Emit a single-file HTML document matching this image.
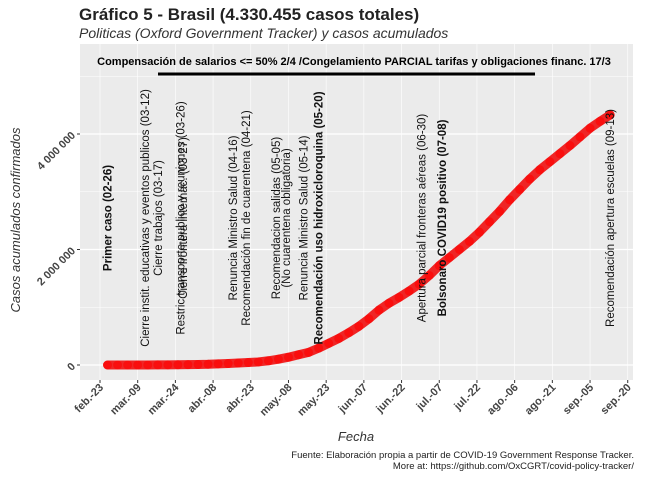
<!DOCTYPE html>
<html><head><meta charset="utf-8"><style>
body{margin:0;background:#fff;font-family:"Liberation Sans",sans-serif}
svg text{font-family:"Liberation Sans",sans-serif}
</style></head><body>
<svg id="c" width="650" height="476" xmlns="http://www.w3.org/2000/svg">
<text x="79" y="20" font-size="17" font-weight="bold" fill="#222">Gráfico 5 - Brasil (4.330.455 casos totales)</text>
<text x="79" y="38" font-size="14" font-style="italic" fill="#333">Politicas (Oxford Government Tracker) y casos acumulados</text>
<rect x="80" y="44" width="553" height="336" fill="#ebebeb"/>
<g id="grid"></g>
<g id="marks"></g>
<g id="ann"></g>
<text x="354" y="65" font-size="11" font-weight="bold" text-anchor="middle" fill="#000">Compensación de salarios &lt;= 50% 2/4 /Congelamiento PARCIAL tarifas y obligaciones financ. 17/3</text>
<line x1="158" y1="74" x2="535" y2="74" stroke="#000" stroke-width="3"/>
<g id="axes"></g>
<text transform="translate(20,220) rotate(-90)" font-size="13" font-style="italic" text-anchor="middle" fill="#333">Casos acumulados confirmados</text>
<text x="356" y="441" font-size="13" font-style="italic" text-anchor="middle" fill="#333">Fecha</text>
<text x="634" y="458" font-size="9.5" text-anchor="end" fill="#222">Fuente: Elaboración propia a partir de COVID-19 Government Response Tracker.</text>
<text x="634" y="469" font-size="9.5" text-anchor="end" fill="#222">More at: https://github.com/OxCGRT/covid-policy-tracker/</text>
</svg>
<script>
const days=[3,7,11,15,19,23,27,31,35,39,43,47,51,55,59,63,67,71,75,79,83,87,91,95,99,103,107,111,115,119,123,127,131,135,139,143,147,151,155,159,163,167,171,175,179,183,187,191,195,199,203];
const cases=[1,2,8,121,291,1128,2201,3904,5717,9056,12056,19638,25262,33682,43079,52995,73235,101147,135106,177589,218223,291579,374898,460000,560000,670000,800000,950000,1070000,1170000,1280000,1400000,1550000,1720000,1860000,2000000,2140000,2300000,2480000,2660000,2860000,3040000,3220000,3380000,3520000,3660000,3800000,3950000,4100000,4220000,4330455];
const xTickLabels=["feb.-23","mar.-09","mar.-24","abr.-08","abr.-23","may.-08","may.-23","jun.-07","jun.-22","jul.-07","jul.-22","ago.-06","ago.-21","sep.-05","sep.-20"];
const yTicks=[0,2000000,4000000];
const yTickLabels=["0","2 000 000","4 000 000"];
const annDays=[3,18,23,32,33,53,58,72,81,87,128,136,203];
const annText=[["Primer caso (02-26)"],["Cierre instit. educativas y eventos publicos (03-12)"],["Cierre trabajos (03-17)"],["Restric transporte publico y reuniones (03-26)"],["Cierre frontera internac. (03-27)"],["Renuncia Ministro Salud (04-16)"],["Recomendación fin de cuarentena (04-21)"],["Recomendacion salidas (05-05)","(No cuarentena obligatoria)"],["Renuncia Ministro Salud (05-14)"],["Recomendación uso hidroxicloroquina (05-20)"],["Apertura parcial fronteras aéreas (06-30)"],["Bolsonaro COVID19 positivo (07-08)"],["Recomendación apertura escuelas (09-13)"]];
const annBold=[1,0,0,0,0,0,0,0,0,1,0,1,0];
const NS="http://www.w3.org/2000/svg";
const X=d=>100+d*2.513, Y=v=>365-v*57.75e-6;
function mk(t,a,p){const e=document.createElementNS(NS,t);for(const k in a)e.setAttribute(k,a[k]);p.appendChild(e);return e;}
const grid=document.getElementById('grid'),marks=document.getElementById('marks'),ann=document.getElementById('ann'),axes=document.getElementById('axes');
for(let m=1;m<=5;m+=2){const l=mk('line',{x1:80,x2:633,y1:Y(m*1e6),y2:Y(m*1e6),stroke:'#fff','stroke-width':0.6},grid);

}
for(let i=0;i<xTickLabels.length;i++){const x=X(i*15);const l=mk('line',{x1:x,x2:x,y1:44,y2:380,stroke:'#fff','stroke-width':0.6},grid);


const tk=mk('line',{x1:x,x2:x,y1:380,y2:383,stroke:'#333','stroke-width':1},axes);


const t=mk('text',{transform:`translate(${x+4},${388}) rotate(-45)`,'font-size':11,'font-weight':'bold','text-anchor':'end',fill:'#444'},axes);t.textContent=xTickLabels[i];

}
for(let i=0;i<yTicks.length;i++){const y=Y(yTicks[i]);const l=mk('line',{x1:80,x2:633,y1:y,y2:y,stroke:'#fff','stroke-width':1.3},grid);


const tk=mk('line',{x1:77,x2:80,y1:y,y2:y,stroke:'#333'},axes);


const t=mk('text',{transform:`translate(${76},${y+2}) rotate(-45)`,'font-size':11,'font-weight':'bold','text-anchor':'end',fill:'#444'},axes);t.textContent=yTickLabels[i];

}
const pl=mk('polyline',{points:days.map((d,i)=>X(d)+','+Y(cases[i])).join(' '),fill:'none',stroke:'#f01010','stroke-width':9,'stroke-linejoin':'round','stroke-linecap':'round',opacity:0.9},marks);


days.forEach((d,i)=>{const c=mk('circle',{cx:X(d),cy:Y(cases[i]),r:4.5,fill:'#ff0000',opacity:0.6},marks);

});
annDays.forEach((d,i)=>{const lines=annText[i];const x=X(d);const n=lines.length;
const t=mk('text',{transform:`translate(${x},218) rotate(-90)`,'font-size':11.5,'font-weight':annBold[i]?'bold':'normal','text-anchor':'middle',fill:'#111'},ann);
lines.forEach((s,j)=>{const ts=mk('tspan',{x:0,y:(j-(n-1)/2)*10+4},t);ts.textContent=s;});

});
</script>
</body></html>
